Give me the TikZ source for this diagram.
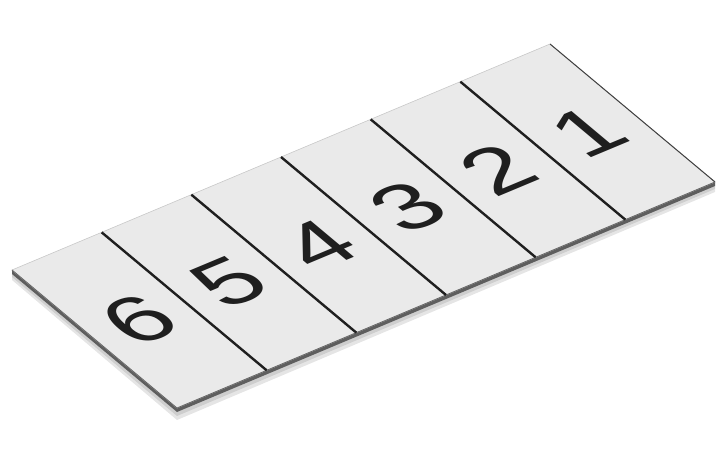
\documentclass[tikz,border=0pt]{standalone}
\usepackage{fontspec}
\setsansfont{Liberation Sans}
\usetikzlibrary{calc}
\definecolor{plategray}{HTML}{EAEAEA}
\definecolor{sidegray}{HTML}{5E5E5E}
\definecolor{rimgray}{HTML}{C8C8C8}

\begin{document}
\begin{tikzpicture}[
  x=1pt, y=1pt,
  plate/.style={fill=plategray, draw=rimgray, line width=0.6pt, line join=round},
  side/.style={fill=sidegray, draw=none},
  shade/.style={fill=black, opacity=0.10, draw=none},
  divider/.style={line width=2.4pt, draw=black!88},
  digit/.style={font=\sffamily\fontsize{82}{82}\selectfont, text=black!88, inner sep=0pt,
    transform shape, cm={1.1,0.46,-0.767,0.642,(0,0)}}
]
\useasboundingbox (0,0) rectangle (717,455);
% plate corners
\coordinate (L) at (12,185);
\coordinate (T) at (550,411);
\coordinate (R) at (715,273);
\coordinate (B) at (177,47);
% shadow and thickness
\fill[shade] (L) -- ($(L)+(0,-10)$) -- ($(B)+(0,-12)$) -- ($(R)+(0,-10)$) -- (R) -- (B) -- cycle;
\fill[shade] (L) -- ($(L)+(0,-7)$) -- ($(B)+(0,-8)$) -- ($(R)+(0,-7)$) -- (R) -- (B) -- cycle;
\fill[side] (L) -- ($(L)+(0,-4)$) -- ($(B)+(0,-4)$) -- ($(R)+(0,-4)$) -- (R) -- (B) -- cycle;
\draw[plate] (L) -- (T) -- (R) -- (B) -- cycle;
\draw[line width=1pt, draw=black!75] (T) -- (R);
\draw[line width=0.8pt, draw=black!60] (L) -- (B) -- (R);
% dividers
\draw[divider] ($(L)!1/6!(T)$) -- ($(B)!1/6!(R)$);
\draw[divider] ($(L)!2/6!(T)$) -- ($(B)!2/6!(R)$);
\draw[divider] ($(L)!3/6!(T)$) -- ($(B)!3/6!(R)$);
\draw[divider] ($(L)!4/6!(T)$) -- ($(B)!4/6!(R)$);
\draw[divider] ($(L)!5/6!(T)$) -- ($(B)!5/6!(R)$);
% panel centres
\coordinate (c6) at ($($(L)!1/12!(T)$)!0.5!($(B)!1/12!(R)$)$);
\coordinate (c5) at ($($(L)!3/12!(T)$)!0.5!($(B)!3/12!(R)$)$);
\coordinate (c4) at ($($(L)!5/12!(T)$)!0.5!($(B)!5/12!(R)$)$);
\coordinate (c3) at ($($(L)!7/12!(T)$)!0.5!($(B)!7/12!(R)$)$);
\coordinate (c2) at ($($(L)!9/12!(T)$)!0.5!($(B)!9/12!(R)$)$);
\coordinate (c1) at ($($(L)!11/12!(T)$)!0.5!($(B)!11/12!(R)$)$);
% numbers
\node[digit] (n6) at (c6) {6};
\node[digit] (n5) at (c5) {5};
\node[digit] (n4) at (c4) {4};
\node[digit] (n3) at (c3) {3};
\node[digit] (n2) at (c2) {2};
\node[digit] (n1) at (c1) {1};
\end{tikzpicture}
\end{document}
